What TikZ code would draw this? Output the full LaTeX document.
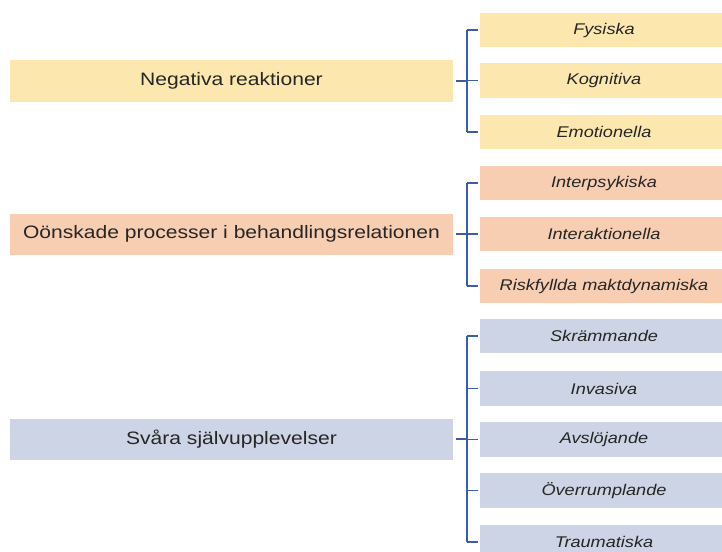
\documentclass[tikz,border=0pt]{standalone}
\usepackage{fontspec}
\setmainfont{Liberation Sans}[FakeStretch=1.17]
\usetikzlibrary{calc}
\definecolor{gul}{HTML}{FCE7AE}
\definecolor{orange}{HTML}{F8CEB2}
\definecolor{gra}{HTML}{CDD4E5}
\definecolor{linje}{HTML}{3B5CA6}
\definecolor{text}{HTML}{262626}

\begin{document}
\begin{tikzpicture}[x=1pt, y=-1pt,
     huvud/.style = {rectangle, inner sep=0pt, minimum width=443pt, minimum height=41pt,
      text=text, font=\fontsize{18}{20}\selectfont},
     del/.style = {rectangle, inner sep=0pt, minimum width=248pt, minimum height=34.5pt,
      text=text, font=\fontsize{15.5}{18}\selectfont\itshape},
     link/.style = {draw=linje, line width=1.4pt}
    ]
    \useasboundingbox (0,0) rectangle (722,551);

    % negativa reaktioner
    \node [huvud, fill=gul] (neg) at (231.5,81) {Negativa reaktioner};
    \node [del, fill=gul] (fys) at (604,30) {Fysiska};
    \node [del, fill=gul] (kog) at (604,80.5) {Kognitiva};
    \node [del, fill=gul] (emo) at (604,132) {Emotionella};

    % processer
    \node [huvud, fill=orange] (proc) at (231.5,234) {Oönskade processer i behandlingsrelationen};
    \node [del, fill=orange] (inps) at (604,183) {Interpsykiska};
    \node [del, fill=orange] (inak) at (604,234) {Interaktionella};
    \node [del, fill=orange] (risk) at (604,286) {Riskfyllda maktdynamiska};

    % självupplevelser
    \node [huvud, fill=gra] (sjalv) at (231.5,439) {Svåra självupplevelser};
    \node [del, fill=gra] (skr) at (604,336) {Skrämmande};
    \node [del, fill=gra] (inv) at (604,388.5) {Invasiva};
    \node [del, fill=gra] (avs) at (604,439.5) {Avslöjande};
    \node [del, fill=gra] (over) at (604,490.5) {Överrumplande};
    \node [del, fill=gra] (trau) at (604,542) {Traumatiska};

    \coordinate (s1) at (467,0);

    \draw[link] ([xshift=3pt]neg.east) -- (s1 |- neg.east);
    \draw[link] (s1 |- fys.west) -- (s1 |- emo.west);
    \foreach \c in {fys,kog,emo}
      \draw[link] (s1 |- \c.west) -- ([xshift=-2pt]\c.west);

    \draw[link] ([xshift=3pt]proc.east) -- (s1 |- proc.east);
    \draw[link] (s1 |- inps.west) -- (s1 |- risk.west);
    \foreach \c in {inps,inak,risk}
      \draw[link] (s1 |- \c.west) -- ([xshift=-2pt]\c.west);

    \draw[link] ([xshift=3pt]sjalv.east) -- (s1 |- sjalv.east);
    \draw[link] (s1 |- skr.west) -- (s1 |- trau.west);
    \foreach \c in {skr,inv,avs,over,trau}
      \draw[link] (s1 |- \c.west) -- ([xshift=-2pt]\c.west);
\end{tikzpicture}
\end{document}
